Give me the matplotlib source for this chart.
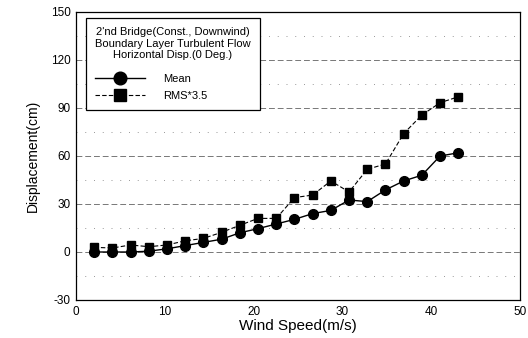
import matplotlib
matplotlib.use("Agg")
import matplotlib.pyplot as plt
from matplotlib.ticker import MultipleLocator

plt.rcParams['font.family'] = ['Liberation Sans', 'DejaVu Sans']
plt.rcParams['axes.unicode_minus'] = False

wind_speed = [2.05, 4.1, 6.15, 8.2, 10.25, 12.3, 14.35, 16.4, 18.45, 20.5, 22.55,
              24.6, 26.65, 28.7, 30.75, 32.8, 34.85, 36.9, 38.95, 41.0, 43.05]
mean_disp = [0.0, 0.0, 0.0, 0.5, 2.0, 4.0, 6.0, 8.0, 12.0, 14.6, 17.5,
             20.4, 24.0, 26.0, 32.5, 31.5, 38.8, 44.4, 48.0, 60.0, 62.0]
rms_disp = [2.9, 2.5, 4.4, 3.3, 4.4, 7.0, 8.5, 12.3, 16.7, 21.0, 21.0,
            34.0, 35.6, 44.4, 37.5, 51.7, 55.0, 74.0, 85.6, 93.3, 97.0]

legend_title = "2'nd Bridge(Const., Downwind)\nBoundary Layer Turbulent Flow\nHorizontal Disp.(0 Deg.)"
series_labels = ["Mean", "RMS*3.5"]

fig = plt.figure(figsize=(5.28, 3.38), dpi=100)
ax = fig.add_axes([76/528, 1-300/338, (520-76)/528, (300-12)/338])

ax.plot(wind_speed, mean_disp, color='black', lw=1.0, marker='o', ms=7.0,
        label=series_labels[0])
ax.plot(wind_speed, rms_disp, color='black', lw=0.8, ls=(0, (4, 2)), marker='s', ms=6.4,
        label=series_labels[1])

ax.set_xlim(0, 50)
ax.set_ylim(-30, 150)
ax.xaxis.set_major_locator(MultipleLocator(10))
ax.yaxis.set_major_locator(MultipleLocator(30))
ax.yaxis.set_minor_locator(MultipleLocator(15))
ax.grid(True, which='major', axis='y', color='#777777', lw=0.7, ls=(0, (6, 3)))
ax.grid(True, which='minor', axis='y', color='#999999', lw=0.7, ls=(0, (1, 8)))
ax.tick_params(axis='both', which='both', length=0, labelsize=8.5, pad=4)
ax.tick_params(axis='y', which='minor', length=0)
for s in ax.spines.values():
    s.set_linewidth(0.9)
    s.set_color('black')

ax.set_xlabel("Wind Speed(m/s)", fontsize=11, labelpad=1)
ax.set_ylabel("Displacement(cm)", fontsize=10, labelpad=8)

leg = ax.legend(title=legend_title, loc='upper left', bbox_to_anchor=(0.022, 0.98),
                fontsize=8, title_fontsize=8, frameon=True, fancybox=False,
                edgecolor='black', framealpha=1, handlelength=4.5, handletextpad=1.6,
                borderpad=0.85, labelspacing=0.6, borderaxespad=0, markerscale=1.3)
leg.get_frame().set_linewidth(0.9)
leg._legend_box.align = "left"
leg._legend_box.sep = 10
leg.get_title().set_multialignment('center')
leg.get_title().set_linespacing(1.2)

fig.savefig("out.png", dpi=100)
